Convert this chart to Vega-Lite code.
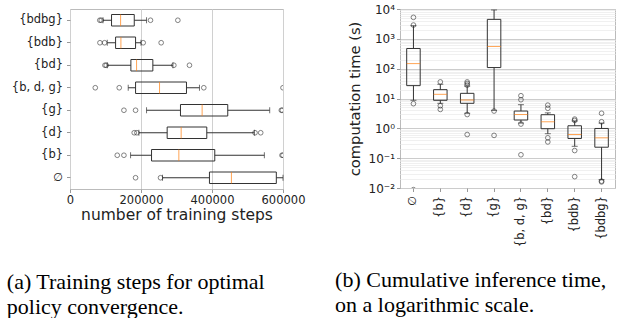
{
  "$schema": "https://vega.github.io/schema/vega-lite/v6.json",
  "background": "white",
  "padding": {"left": 6, "top": 2, "right": 2, "bottom": 0},
  "bounds": "flush",
  "spacing": 117,
  "datasets": {
    "leftBox": [
      {"cat": "{bdbg}", "lo": 93000, "q1": 117000, "med": 142500, "q3": 181000, "hi": 215600},
      {"cat": "{bdb}", "lo": 105000, "q1": 128400, "med": 143400, "q3": 184700, "hi": 200000},
      {"cat": "{bd}", "lo": 105000, "q1": 171500, "med": 187500, "q3": 233400, "hi": 290000},
      {"cat": "{b, d, g}", "lo": 164000, "q1": 184700, "med": 252200, "q3": 328100, "hi": 364700},
      {"cat": "{g}", "lo": 215600, "q1": 311200, "med": 372200, "q3": 444400, "hi": 562500},
      {"cat": "{d}", "lo": 194000, "q1": 273700, "med": 313100, "q3": 385300, "hi": 519400},
      {"cat": "{b}", "lo": 170600, "q1": 229700, "med": 306600, "q3": 407800, "hi": 547500},
      {"cat": "∅", "lo": 260600, "q1": 392800, "med": 454700, "q3": 581200, "hi": 600000}
    ],
    "leftOut": [
      {"cat": "{bdbg}", "v": 84000}, {"cat": "{bdbg}", "v": 88000}, {"cat": "{bdbg}", "v": 226700}, {"cat": "{bdbg}", "v": 303800},
      {"cat": "{bdb}", "v": 84400}, {"cat": "{bdb}", "v": 97400}, {"cat": "{bdb}", "v": 206200}, {"cat": "{bdb}", "v": 256800},
      {"cat": "{bd}", "v": 98400}, {"cat": "{bd}", "v": 102000}, {"cat": "{bd}", "v": 292500}, {"cat": "{bd}", "v": 336500},
      {"cat": "{b, d, g}", "v": 71200}, {"cat": "{b, d, g}", "v": 138700}, {"cat": "{b, d, g}", "v": 376900}, {"cat": "{b, d, g}", "v": 600000},
      {"cat": "{g}", "v": 151900}, {"cat": "{g}", "v": 184700}, {"cat": "{g}", "v": 595300}, {"cat": "{g}", "v": 598100},
      {"cat": "{d}", "v": 180900}, {"cat": "{d}", "v": 188400}, {"cat": "{d}", "v": 521200}, {"cat": "{d}", "v": 537200},
      {"cat": "{b}", "v": 133100}, {"cat": "{b}", "v": 151900}, {"cat": "{b}", "v": 597200}, {"cat": "{b}", "v": 600000},
      {"cat": "∅", "v": 184700}, {"cat": "∅", "v": 255000}
    ],
    "rightBox": [
      {"cat": "∅", "lo": 8.7, "q1": 27, "med": 148, "q3": 475, "hi": 2750},
      {"cat": "{b}", "lo": 6.9, "q1": 8.7, "med": 13.8, "q3": 19.8, "hi": 30},
      {"cat": "{d}", "lo": 3.2, "q1": 6.9, "med": 8.9, "q3": 14.9, "hi": 26},
      {"cat": "{g}", "lo": 4.0, "q1": 109, "med": 555, "q3": 4490, "hi": 9300},
      {"cat": "{b, d, g}", "lo": 1.5, "q1": 1.9, "med": 2.9, "q3": 3.8, "hi": 6.2},
      {"cat": "{bd}", "lo": 0.66, "q1": 0.97, "med": 1.66, "q3": 2.86, "hi": 3.3},
      {"cat": "{bdb}", "lo": 0.25, "q1": 0.457, "med": 0.62, "q3": 1.22, "hi": 1.76},
      {"cat": "{bdbg}", "lo": 0.019, "q1": 0.233, "med": 0.48, "q3": 0.99, "hi": 1.5}
    ],
    "rightOut": [
      {"cat": "∅", "v": 5250}, {"cat": "∅", "v": 2900}, {"cat": "∅", "v": 6.7}, {"cat": "∅", "v": 0.0088},
      {"cat": "{b}", "v": 36}, {"cat": "{b}", "v": 5.7}, {"cat": "{b}", "v": 4.3},
      {"cat": "{d}", "v": 36}, {"cat": "{d}", "v": 32}, {"cat": "{d}", "v": 28}, {"cat": "{d}", "v": 2.9}, {"cat": "{d}", "v": 0.62},
      {"cat": "{g}", "v": 3.8}, {"cat": "{g}", "v": 0.58},
      {"cat": "{b, d, g}", "v": 12.4}, {"cat": "{b, d, g}", "v": 9.1}, {"cat": "{b, d, g}", "v": 1.39}, {"cat": "{b, d, g}", "v": 0.13},
      {"cat": "{bd}", "v": 6.0}, {"cat": "{bd}", "v": 4.7}, {"cat": "{bd}", "v": 0.48}, {"cat": "{bd}", "v": 0.35},
      {"cat": "{bdb}", "v": 2.04}, {"cat": "{bdb}", "v": 1.84}, {"cat": "{bdb}", "v": 0.18}, {"cat": "{bdb}", "v": 0.024},
      {"cat": "{bdbg}", "v": 3.2}, {"cat": "{bdbg}", "v": 1.66}, {"cat": "{bdbg}", "v": 0.017}, {"cat": "{bdbg}", "v": 0.016}
    ]
  },
  "config": {
    "view": {"stroke": "#bbbbbb", "strokeWidth": 1},
    "axis": {
      "labelFont": "DejaVu Sans", "labelFontSize": 11.5, "labelColor": "#222222",
      "titleFont": "DejaVu Sans", "titleFontSize": 15, "titleFontWeight": "normal", "titleColor": "#222222",
      "domain": false, "tickColor": "#999999", "tickSize": 3.5, "gridColor": "#d0d0d0"
    },
    "title": {"font": "Liberation Serif", "fontSize": 22, "fontWeight": "normal", "color": "#000000", "anchor": "start", "orient": "bottom", "lineHeight": 25}
  },
  "hconcat": [
    {
      "width": 213,
      "height": 180,
      "title": {"text": ["(a) Training steps for optimal", "policy convergence."], "offset": 49, "dx": -4.5},
      "layer": [
        {
          "data": {"name": "leftBox"},
          "mark": {"type": "rule", "color": "#333333", "strokeWidth": 1},
          "encoding": {
            "y": {"field": "cat", "type": "nominal", "scale": {"domain": ["{bdbg}", "{bdb}", "{bd}", "{b, d, g}", "{g}", "{d}", "{b}", "∅"], "paddingInner": 0, "paddingOuter": 0}, "axis": {"title": null, "labelPadding": 4}},
            "x": {"field": "lo", "type": "quantitative", "scale": {"domain": [0, 600000], "nice": false}, "axis": {"title": "number of training steps", "titleFontSize": 15.5, "values": [0, 200000, 400000, 600000], "format": "d", "grid": true, "labelFlush": false, "titlePadding": 1, "labelPadding": 2}},
            "x2": {"field": "q1"}
          }
        },
        {
          "data": {"name": "leftBox"},
          "mark": {"type": "rule", "color": "#333333", "strokeWidth": 1},
          "encoding": {
            "y": {"field": "cat", "type": "nominal"},
            "x": {"field": "q3", "type": "quantitative"},
            "x2": {"field": "hi"}
          }
        },
        {
          "data": {"name": "leftBox"},
          "mark": {"type": "tick", "color": "#333333", "size": 6, "thickness": 1},
          "encoding": {"y": {"field": "cat", "type": "nominal"}, "x": {"field": "lo", "type": "quantitative"}}
        },
        {
          "data": {"name": "leftBox"},
          "mark": {"type": "tick", "color": "#333333", "size": 6, "thickness": 1},
          "encoding": {"y": {"field": "cat", "type": "nominal"}, "x": {"field": "hi", "type": "quantitative"}}
        },
        {
          "data": {"name": "leftBox"},
          "mark": {"type": "bar", "size": 11.5, "fill": "white", "fillOpacity": 0, "stroke": "#333333", "strokeWidth": 1},
          "encoding": {"y": {"field": "cat", "type": "nominal"}, "x": {"field": "q1", "type": "quantitative"}, "x2": {"field": "q3"}}
        },
        {
          "data": {"name": "leftBox"},
          "mark": {"type": "tick", "color": "#ff7f0e", "size": 11.5, "thickness": 1},
          "encoding": {"y": {"field": "cat", "type": "nominal"}, "x": {"field": "med", "type": "quantitative"}}
        },
        {
          "data": {"name": "leftOut"},
          "mark": {"type": "point", "shape": "circle", "filled": false, "color": "#222222", "size": 22, "strokeWidth": 0.8, "clip": true},
          "encoding": {"y": {"field": "cat", "type": "nominal"}, "x": {"field": "v", "type": "quantitative"}}
        }
      ]
    },
    {
      "width": 215,
      "height": 179,
      "title": {"text": ["(b) Cumulative inference time,", "on a logarithmic scale."], "offset": 23, "dx": -12},
      "layer": [
        {
          "data": {"name": "rightBox"},
          "mark": {"type": "rule", "color": "#333333", "strokeWidth": 1},
          "encoding": {
            "x": {"field": "cat", "type": "nominal", "scale": {"domain": ["∅", "{b}", "{d}", "{g}", "{b, d, g}", "{bd}", "{bdb}", "{bdbg}"], "paddingInner": 0, "paddingOuter": 0}, "axis": {"title": null, "labelAngle": -90, "labelPadding": 4}},
            "y": {"field": "lo", "type": "quantitative", "scale": {"type": "log", "domain": [0.01, 10000], "nice": false}, "axis": {
              "title": "computation time (s)", "titleFontSize": 14.7, "grid": true, "titlePadding": 6, "labelFontSize": 12,
              "values": [0.01,0.02,0.03,0.04,0.05,0.06,0.07,0.08,0.09,0.1,0.2,0.3,0.4,0.5,0.6,0.7,0.8,0.9,1,2,3,4,5,6,7,8,9,10,20,30,40,50,60,70,80,90,100,200,300,400,500,600,700,800,900,1000,2000,3000,4000,5000,6000,7000,8000,9000,10000],
              "labelExpr": "datum.value == 10000 ? '10⁴' : datum.value == 1000 ? '10³' : datum.value == 100 ? '10²' : datum.value == 10 ? '10¹' : datum.value == 1 ? '10⁰' : datum.value == 0.1 ? '10⁻¹' : datum.value == 0.01 ? '10⁻²' : ''",
              "gridColor": {"condition": {"test": "abs(log(datum.value)/LN10 - round(log(datum.value)/LN10)) < 0.000001", "value": "#cccccc"}, "value": "#f0f0f0"},
              "tickColor": {"condition": {"test": "abs(log(datum.value)/LN10 - round(log(datum.value)/LN10)) < 0.000001", "value": "#999999"}, "value": "transparent"}
            }},
            "y2": {"field": "q1"}
          }
        },
        {
          "data": {"name": "rightBox"},
          "mark": {"type": "rule", "color": "#333333", "strokeWidth": 1},
          "encoding": {"x": {"field": "cat", "type": "nominal"}, "y": {"field": "q3", "type": "quantitative"}, "y2": {"field": "hi"}}
        },
        {
          "data": {"name": "rightBox"},
          "mark": {"type": "tick", "color": "#333333", "size": 6, "thickness": 1},
          "encoding": {"x": {"field": "cat", "type": "nominal"}, "y": {"field": "lo", "type": "quantitative"}}
        },
        {
          "data": {"name": "rightBox"},
          "mark": {"type": "tick", "color": "#333333", "size": 6, "thickness": 1},
          "encoding": {"x": {"field": "cat", "type": "nominal"}, "y": {"field": "hi", "type": "quantitative"}}
        },
        {
          "data": {"name": "rightBox"},
          "mark": {"type": "bar", "size": 13.5, "fill": "white", "fillOpacity": 0, "stroke": "#333333", "strokeWidth": 1},
          "encoding": {"x": {"field": "cat", "type": "nominal"}, "y": {"field": "q1", "type": "quantitative"}, "y2": {"field": "q3"}}
        },
        {
          "data": {"name": "rightBox"},
          "mark": {"type": "tick", "color": "#ff7f0e", "size": 13.5, "thickness": 1},
          "encoding": {"x": {"field": "cat", "type": "nominal"}, "y": {"field": "med", "type": "quantitative"}}
        },
        {
          "data": {"name": "rightOut"},
          "mark": {"type": "point", "shape": "circle", "filled": false, "color": "#222222", "size": 22, "strokeWidth": 0.8, "clip": true},
          "encoding": {"x": {"field": "cat", "type": "nominal"}, "y": {"field": "v", "type": "quantitative"}}
        }
      ]
    }
  ]
}
